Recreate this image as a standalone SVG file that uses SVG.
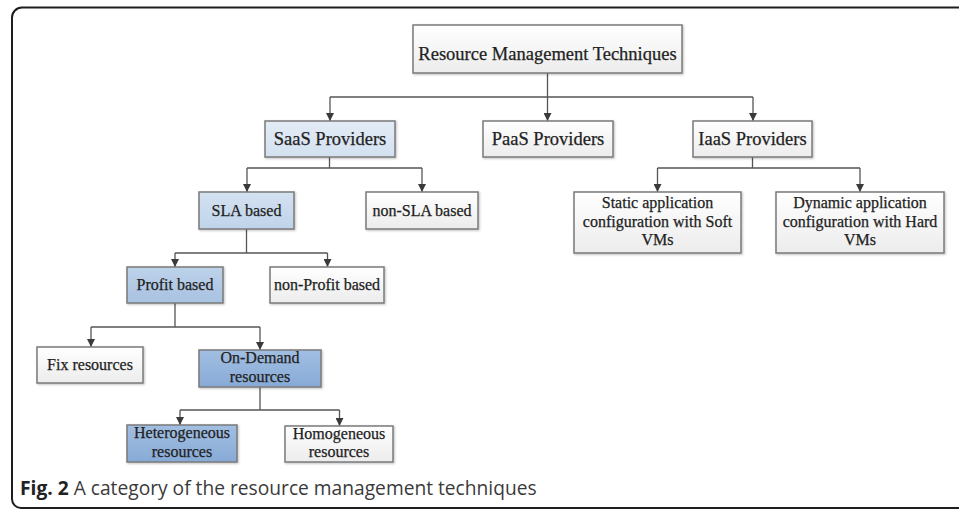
<svg xmlns="http://www.w3.org/2000/svg" width="959" height="509" viewBox="0 0 959 509">
  <defs>
    <linearGradient id="gWhite" x1="0" y1="0" x2="0" y2="1">
      <stop offset="0" stop-color="#ffffff"/>
      <stop offset="1" stop-color="#ececec"/>
    </linearGradient>
    <linearGradient id="gBlue1" x1="0" y1="0" x2="0" y2="1">
      <stop offset="0" stop-color="#e3ecf6"/>
      <stop offset="1" stop-color="#d3e1f0"/>
    </linearGradient>
    <linearGradient id="gBlue2" x1="0" y1="0" x2="0" y2="1">
      <stop offset="0" stop-color="#d4e2f1"/>
      <stop offset="1" stop-color="#bfd3ea"/>
    </linearGradient>
    <linearGradient id="gBlue3" x1="0" y1="0" x2="0" y2="1">
      <stop offset="0" stop-color="#bed2ea"/>
      <stop offset="1" stop-color="#a8c2e1"/>
    </linearGradient>
    <linearGradient id="gBlue4" x1="0" y1="0" x2="0" y2="1">
      <stop offset="0" stop-color="#a2bfe2"/>
      <stop offset="1" stop-color="#87aad6"/>
    </linearGradient>
    <marker id="arr" viewBox="0 0 10 10" refX="10" refY="5" markerWidth="8" markerHeight="8" markerUnits="userSpaceOnUse" orient="auto">
      <path d="M0,0 L10,5 L0,10 Z" fill="#3a3a3a"/>
    </marker>
    <filter id="sh" x="-5%" y="-5%" width="115%" height="120%">
      <feDropShadow dx="1" dy="1" stdDeviation="0.8" flood-color="#000" flood-opacity="0.25"/>
    </filter>
  </defs>
  <style>
    .box { stroke: #7a7a7a; stroke-width: 1.5; filter: url(#sh); }
    .w { fill: url(#gWhite); }
    .b1 { fill: url(#gBlue1); }
    .b2 { fill: url(#gBlue2); }
    .b3 { fill: url(#gBlue3); }
    .b4 { fill: url(#gBlue4); }
    .t { font-family: "Liberation Serif", "Times New Roman", serif; fill: #222; stroke: #222; stroke-width: 0.25; text-anchor: middle; }
    .t18 { font-size: 18.5px; }
    .t16 { font-size: 16px; }
    .c { fill: none; stroke: #555; stroke-width: 1.3; }
    .cap { font-family: "Open Sans", "Liberation Sans", sans-serif; font-size: 19.2px; fill: #3a3a3a; }
  </style>

  <path d="M959 7.5 H22 A10 10 0 0 0 12 17.5 V499 A9 9 0 0 0 21 508 H959" fill="none" stroke="#1e1e1e" stroke-width="2"/>

  <g id="connectors">
    <path class="c" d="M547.5 73 V97 M330 97 H753"/>
    <path class="c" d="M330 97 V121" marker-end="url(#arr)"/>
    <path class="c" d="M547.5 97 V121" marker-end="url(#arr)"/>
    <path class="c" d="M753 97 V121" marker-end="url(#arr)"/>

    <path class="c" d="M329.5 157 V168 M247 168 H422"/>
    <path class="c" d="M247 168 V192" marker-end="url(#arr)"/>
    <path class="c" d="M422 168 V192" marker-end="url(#arr)"/>

    <path class="c" d="M752.5 157 V168 M657.5 168 H860"/>
    <path class="c" d="M657.5 168 V192" marker-end="url(#arr)"/>
    <path class="c" d="M860 168 V192" marker-end="url(#arr)"/>

    <path class="c" d="M246.5 229 V253 M175 253 H327.5"/>
    <path class="c" d="M175 253 V267" marker-end="url(#arr)"/>
    <path class="c" d="M327.5 253 V267" marker-end="url(#arr)"/>

    <path class="c" d="M175 303 V327 M91 327 H260"/>
    <path class="c" d="M91 327 V347" marker-end="url(#arr)"/>
    <path class="c" d="M260 327 V350" marker-end="url(#arr)"/>

    <path class="c" d="M260 387 V410 M180 410 H339.5"/>
    <path class="c" d="M180 410 V425" marker-end="url(#arr)"/>
    <path class="c" d="M339.5 410 V426" marker-end="url(#arr)"/>
  </g>

  <g id="root">
    <rect class="box w" x="413" y="25" width="269" height="48"/>
    <text class="t t18" x="547.5" y="60">Resource Management Techniques</text>
  </g>
  <g id="saas">
    <rect class="box b1" x="265" y="121" width="130" height="36"/>
    <text class="t t18" x="330" y="145">SaaS Providers</text>
  </g>
  <g id="paas">
    <rect class="box w" x="483" y="121" width="130" height="36"/>
    <text class="t t18" x="548" y="145">PaaS Providers</text>
  </g>
  <g id="iaas">
    <rect class="box w" x="693" y="121" width="119" height="36"/>
    <text class="t t18" x="752.5" y="145">IaaS Providers</text>
  </g>
  <g id="sla">
    <rect class="box b2" x="199" y="192" width="95" height="37"/>
    <text class="t t16" x="246.5" y="215.5">SLA based</text>
  </g>
  <g id="nonsla">
    <rect class="box w" x="366" y="192" width="112" height="37"/>
    <text class="t t16" x="422" y="215.5">non-SLA based</text>
  </g>
  <g id="static">
    <rect class="box w" x="574" y="192" width="167" height="61"/>
    <text class="t t16" x="657.5" y="208">Static application</text>
    <text class="t t16" x="657.5" y="226.5">configuration with Soft</text>
    <text class="t t16" x="657.5" y="245">VMs</text>
  </g>
  <g id="dynamic">
    <rect class="box w" x="776" y="192" width="168" height="61"/>
    <text class="t t16" x="860" y="208">Dynamic application</text>
    <text class="t t16" x="860" y="226.5">configuration with Hard</text>
    <text class="t t16" x="860" y="245">VMs</text>
  </g>
  <g id="profit">
    <rect class="box b3" x="127" y="267" width="96" height="36"/>
    <text class="t t16" x="175" y="290">Profit based</text>
  </g>
  <g id="nonprofit">
    <rect class="box w" x="270" y="267" width="114" height="36"/>
    <text class="t t16" x="327" y="290">non-Profit based</text>
  </g>
  <g id="fix">
    <rect class="box w" x="37" y="347" width="106" height="36"/>
    <text class="t t16" x="90" y="370">Fix resources</text>
  </g>
  <g id="ondemand">
    <rect class="box b4" x="199" y="350" width="122" height="37"/>
    <text class="t t16" x="260" y="363">On-Demand</text>
    <text class="t t16" x="260" y="381.5">resources</text>
  </g>
  <g id="hetero">
    <rect class="box b4" x="127" y="425" width="110" height="37"/>
    <text class="t t16" x="182" y="438">Heterogeneous</text>
    <text class="t t16" x="182" y="456.5">resources</text>
  </g>
  <g id="homo">
    <rect class="box w" x="285" y="426" width="108" height="36"/>
    <text class="t t16" x="339" y="438.5">Homogeneous</text>
    <text class="t t16" x="339" y="456.5">resources</text>
  </g>

  <text class="cap" x="20" y="495"><tspan font-weight="700" fill="#222">Fig. 2</tspan> A category of the resource management techniques</text>
</svg>
